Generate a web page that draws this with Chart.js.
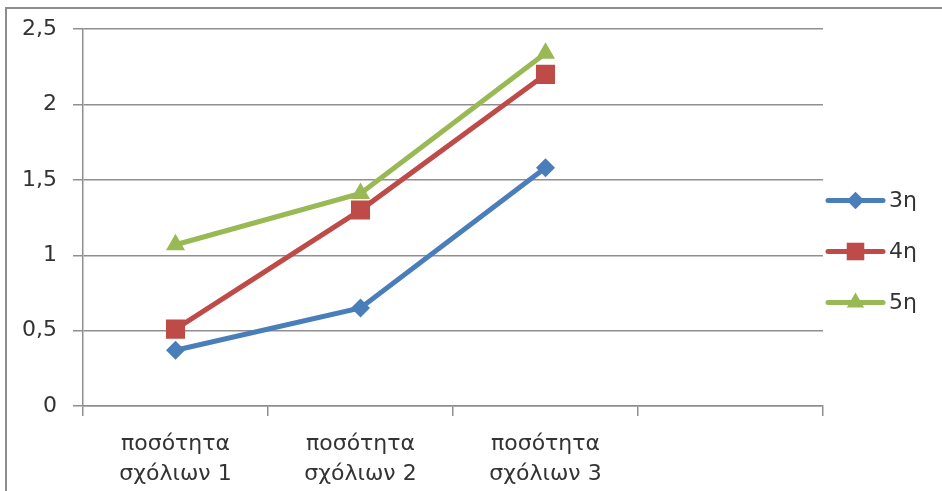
<!DOCTYPE html>
<html>
<head>
<meta charset="utf-8">
<script src="https://cdn.jsdelivr.net/npm/chart.js@4/dist/chart.umd.min.js"></script>
<style>
  html, body { margin: 0; padding: 0; background: #fff; overflow: hidden; }
  #wrap { position: relative; width: 942px; height: 491px; }
  #frame { position: absolute; left: 5px; top: 7px; width: 1000px; height: 1000px;
           border: 2px solid #8d8d8d; pointer-events: none; box-sizing: border-box; }
  canvas { position: absolute; left: 0; top: 0; }
</style>
</head>
<body>
<div id="wrap">
  <canvas id="c" width="942" height="491"></canvas>
  <div id="frame"></div>
</div>
<script>
// Categories (the fourth slot on the axis is left empty)
const categories = [
  ['ποσότητα', 'σχόλιων 1'],
  ['ποσότητα', 'σχόλιων 2'],
  ['ποσότητα', 'σχόλιων 3'],
  ''
];

// Series values
const series3 = [0.37, 0.65, 1.58];
const series4 = [0.51, 1.30, 2.20];
const series5 = [1.07, 1.41, 2.34];

const seriesNames = ['3η', '4η', '5η'];

// Value axis tick labels (decimal comma)
const yTickLabels = ['0', '0,5', '1', '1,5', '2', '2,5'];

const FONT = 'DejaVu Sans';
const TEXT = '#333333';
const GRID = '#8f8f8f';

const styles = [
  { color: '#4a7ebb', pointStyle: 'rectRot', radius: 9.5 },
  { color: '#be4b48', pointStyle: 'rect', radius: 13.5 },
  { color: '#98b954', pointStyle: 'triangle', radius: 11 }
];

const values = [series3, series4, series5];

const datasets = values.map((v, i) => ({
  label: seriesNames[i],
  data: v,
  borderColor: styles[i].color,
  backgroundColor: styles[i].color,
  pointBackgroundColor: styles[i].color,
  pointBorderColor: styles[i].color,
  borderWidth: 5,
  pointStyle: styles[i].pointStyle,
  pointRadius: styles[i].radius,
  pointBorderWidth: 0,
  tension: 0,
  fill: false
}));

// Legend on the right: a line segment with the marker in its middle, then the name
const sideLegend = {
  id: 'sideLegend',
  afterDraw(chart) {
    const ctx = chart.ctx;
    const x0 = chart.chartArea.right + 3;
    const x1 = x0 + 59;
    const midY = chart.height / 2 + 6;
    ctx.save();
    chart.data.datasets.forEach((ds, i) => {
      const y = midY + (i - 1) * 51;
      ctx.strokeStyle = ds.borderColor;
      ctx.fillStyle = ds.borderColor;
      ctx.lineWidth = 5;
      ctx.lineCap = 'round';
      ctx.beginPath();
      ctx.moveTo(x0 + 2, y);
      ctx.lineTo(x1 - 2, y);
      ctx.stroke();
      Chart.helpers.drawPoint(ctx, {
        pointStyle: ds.pointStyle,
        radius: ds.pointRadius * 0.92,
        rotation: 0,
        borderWidth: 0
      }, (x0 + x1) / 2, y);
      ctx.fillStyle = TEXT;
      ctx.font = '22px "' + FONT + '"';
      ctx.textBaseline = 'middle';
      ctx.textAlign = 'left';
      ctx.fillText(ds.label, x1 + 4, y + 1);
    });
    ctx.restore();
  }
};

new Chart(document.getElementById('c'), {
  type: 'line',
  data: { labels: categories, datasets },
  plugins: [sideLegend],
  options: {
    responsive: false,
    animation: false,
    devicePixelRatio: 1,
    layout: { padding: { left: 0, top: 29, right: 119, bottom: 0 } },
    plugins: {
      legend: { display: false },
      tooltip: { enabled: false }
    },
    scales: {
      x: {
        type: 'category',
        offset: true,
        afterFit(scale) { scale.height = 85; },
        grid: {
          display: true,
          offset: true,
          drawOnChartArea: false,
          drawTicks: true,
          tickLength: 10,
          color: GRID,
          lineWidth: 1.5
        },
        border: { display: true, color: GRID, width: 1.5 },
        ticks: {
          color: TEXT,
          font: { family: FONT, size: 22, lineHeight: 1.36 },
          padding: 13,
          maxRotation: 0,
          autoSkip: false
        }
      },
      y: {
        min: 0,
        max: 2.5,
        afterFit(scale) { scale.width = 83; },
        grid: {
          color: GRID,
          lineWidth: 1.5,
          tickLength: 10
        },
        border: { display: true, color: GRID, width: 1.5 },
        ticks: {
          stepSize: 0.5,
          color: TEXT,
          font: { family: FONT, size: 22 },
          padding: 16,
          callback: (value, index) => yTickLabels[index]
        }
      }
    }
  }
});
</script>
</body>
</html>
